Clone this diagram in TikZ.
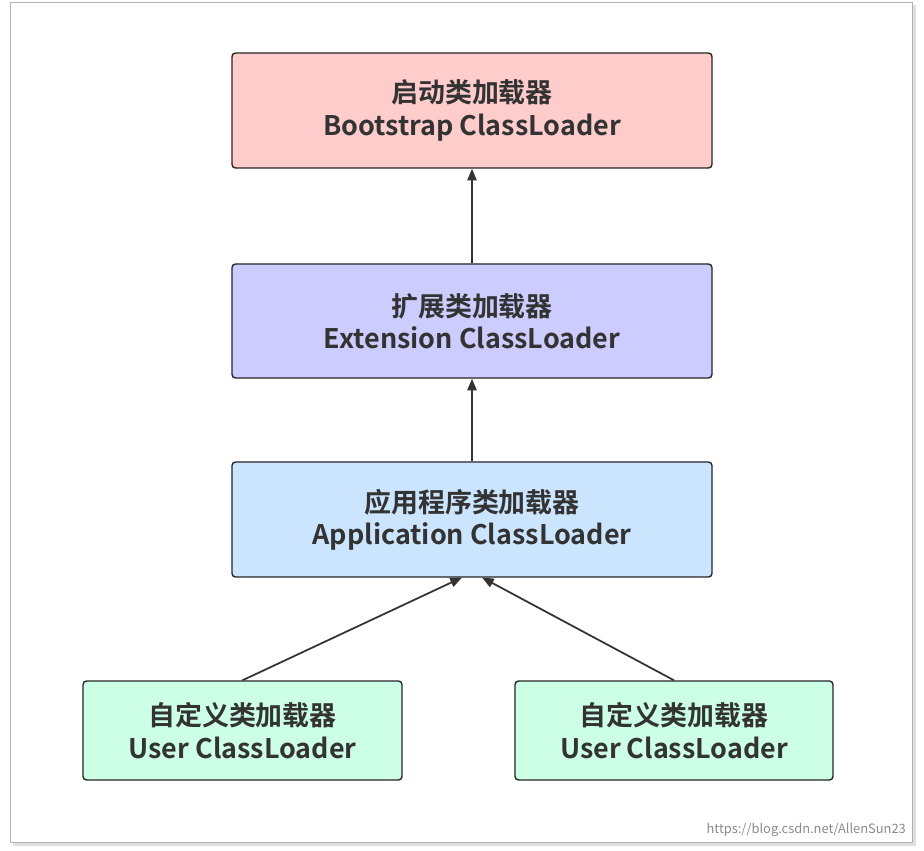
\documentclass[tikz,border=0pt]{standalone}
\usepackage{fontspec}
\setmainfont{Noto Sans CJK SC}[BoldFont={Noto Sans CJK SC Bold}]
\usetikzlibrary{arrows.meta}
\definecolor{cboot}{HTML}{FFCCCC}
\definecolor{cext}{HTML}{CCCCFF}
\definecolor{capp}{HTML}{CCE5FF}
\definecolor{cuser}{HTML}{CCFFE6}
\begin{document}
\begin{tikzpicture}[x=0.03cm,y=-0.03cm,
  box/.style={draw=black!85,line width=1.2pt,rounded corners=3pt,font=\fontsize{23pt}{27.5pt}\selectfont\bfseries,text=black!80,align=center,inner sep=0pt},
  arr/.style={draw=black!80,line width=1.5pt,-{Triangle[length=10pt,width=8pt]}}]
\useasboundingbox (0,0) rectangle (924,851);
\fill[black!12] (13,5) rectangle (916,846);
\draw[black!30,fill=white] (10,2) rectangle (912,842);
\node[box,fill=cboot,minimum width=480*0.03cm,minimum height=115*0.03cm] (boot) at (472,110.5) {启动类加载器\\Bootstrap ClassLoader};
\node[box,fill=cext,minimum width=480*0.03cm,minimum height=114*0.03cm] (ext) at (472,321) {扩展类加载器\\Extension ClassLoader};
\node[box,fill=capp,minimum width=480*0.03cm,minimum height=115*0.03cm] (app) at (472,519.5) {应用程序类加载器\\Application ClassLoader};
\node[box,fill=cuser,minimum width=319*0.03cm,minimum height=99*0.03cm] (u1) at (242.5,730.5) {自定义类加载器\\User ClassLoader};
\node[box,fill=cuser,minimum width=318*0.03cm,minimum height=99*0.03cm] (u2) at (674,730.5) {自定义类加载器\\User ClassLoader};
\draw[arr] (ext.north) -- (boot.south);
\draw[arr] (app.north) -- (ext.south);
\coordinate (a1) at (462,577.5);
\coordinate (a2) at (482,577.5);
\draw[arr] (u1.north) -- (a1);
\draw[arr] (u2.north) -- (a2);
\node[text=black!45,font=\fontsize{11pt}{13pt}\selectfont,anchor=east] (url) at (910,830) {https://blog.csdn.net/AllenSun23};
\end{tikzpicture}
\end{document}
